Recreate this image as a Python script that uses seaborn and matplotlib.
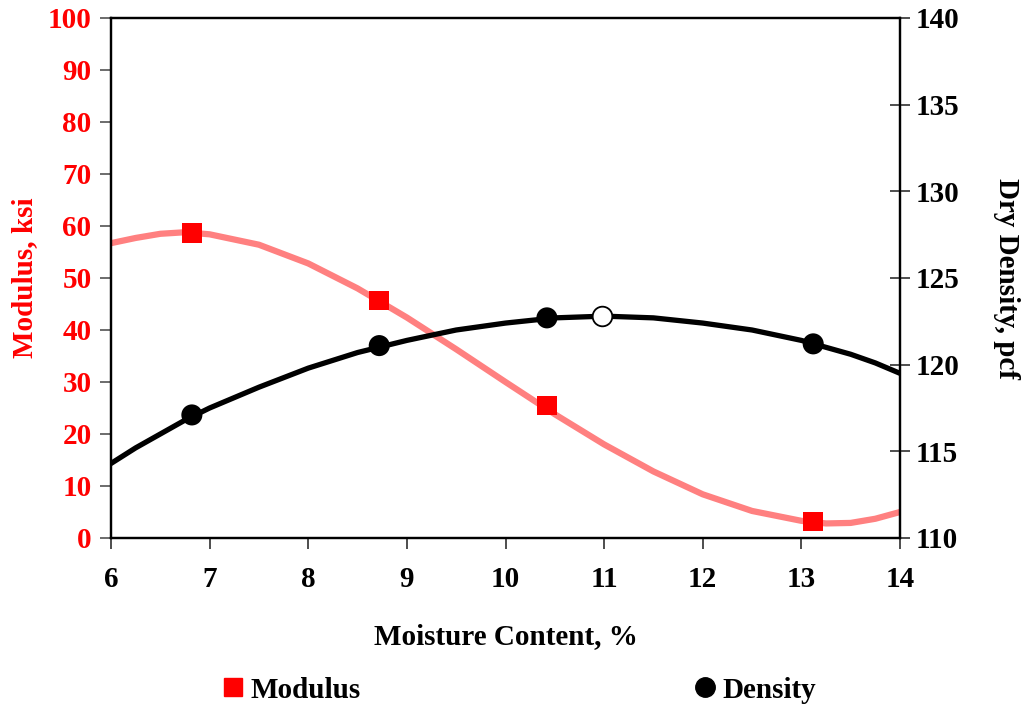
import matplotlib
matplotlib.use("Agg")
import matplotlib.pyplot as plt
import seaborn as sns
import pandas as pd
from matplotlib.lines import Line2D

# ---- data ----
curve_x = [6, 6.25, 6.5, 6.75, 7, 7.5, 8, 8.5, 9, 9.5, 10, 10.5, 11, 11.5, 12, 12.5,
           13, 13.25, 13.5, 13.75, 14]
modulus_curve = [56.7, 57.7, 58.5, 58.8, 58.4, 56.4, 52.8, 48.0, 42.4, 36.3, 30.0,
                 23.8, 18.0, 12.8, 8.4, 5.2, 3.3, 2.8, 2.9, 3.7, 5.0]
density_curve = [114.3, 115.2, 116.0, 116.8, 117.5, 118.7, 119.8, 120.7, 121.4,
                 122.0, 122.4, 122.7, 122.8, 122.7, 122.4, 122.0, 121.4, 121.0,
                 120.6, 120.1, 119.5]

moisture = [6.82, 8.72, 10.42, 13.12]
modulus = [58.7, 45.7, 25.5, 3.2]
density = [117.1, 121.1, 122.7, 121.2]

opt_moisture = [10.98]
opt_density = [122.8]

x_ticks = [6, 7, 8, 9, 10, 11, 12, 13, 14]
left_ticks = [0, 10, 20, 30, 40, 50, 60, 70, 80, 90, 100]
right_ticks = [110, 115, 120, 125, 130, 135, 140]

sns.set_style("white")
plt.rcParams["font.family"] = ["Liberation Serif", "DejaVu Serif"]
plt.rcParams["font.weight"] = "bold"
plt.rcParams["text.color"] = "black"
plt.rcParams["axes.labelcolor"] = "black"
plt.rcParams["xtick.color"] = "black"
plt.rcParams["ytick.color"] = "black"

FS = 21

fig = plt.figure(figsize=(10.24, 7.09), dpi=100)
ax = fig.add_axes([111 / 1024, (709 - 538) / 709, 789 / 1024, 520 / 709])
ax2 = ax.twinx()

curve_df = pd.DataFrame({"x": curve_x, "mod": modulus_curve, "den": density_curve})
pts_df = pd.DataFrame({"x": moisture, "mod": modulus, "den": density})

sns.lineplot(data=curve_df, x="x", y="mod", ax=ax, color="#FF8080", lw=4.5,
             sort=True, legend=False)
sns.scatterplot(data=pts_df, x="x", y="mod", ax=ax, marker="s", s=200,
                color="#FF0000", edgecolor="none", zorder=5, legend=False)

sns.lineplot(data=curve_df, x="x", y="den", ax=ax2, color="black", lw=3.8,
             sort=True, legend=False)
sns.scatterplot(data=pts_df, x="x", y="den", ax=ax2, marker="o", s=230,
                color="black", edgecolor="none", zorder=5, legend=False)
sns.scatterplot(x=opt_moisture, y=opt_density, ax=ax2, marker="o", s=200,
                facecolor="white", edgecolor="black", linewidth=1.3, zorder=6,
                legend=False)

ax.set_xlim(6, 14)
ax.set_ylim(0, 100)
ax2.set_ylim(110, 140)
ax.set_xticks(x_ticks)
ax.set_xticklabels([str(v) for v in x_ticks])
ax.set_yticks(left_ticks)
ax.set_yticklabels([str(v) for v in left_ticks])
ax2.set_yticks(right_ticks)
ax2.set_yticklabels([str(v) for v in right_ticks])

for a in (ax, ax2):
    for s in a.spines.values():
        s.set_visible(True)
        s.set_color("black")
        s.set_linewidth(1.6)

ax.tick_params(axis="x", direction="out", length=8, width=1.3, color="#404040",
               labelsize=FS, labelcolor="black", pad=12, bottom=True)
ax.tick_params(axis="y", direction="out", length=8, width=1.3, color="#606060",
               labelsize=FS, labelcolor="#FF0000", pad=6, left=True)
ax2.tick_params(axis="y", direction="inout", length=14, width=1.3, color="#404040",
                labelsize=FS, labelcolor="black", pad=4, right=True)
for lab in ax.get_xticklabels() + ax.get_yticklabels() + ax2.get_yticklabels():
    lab.set_fontweight("bold")

ax.set_xlabel("Moisture Content, %", fontsize=FS, fontweight="bold", color="black",
              labelpad=22)
ax.set_ylabel("Modulus, ksi", fontsize=FS, fontweight="bold", color="#FF0000",
              labelpad=7)
ax2.set_ylabel("Dry Density, pcf", fontsize=FS, fontweight="bold", color="black",
               rotation=-90, labelpad=44)
ax.grid(False)
ax2.grid(False)

h1 = [Line2D([], [], marker="s", color="#FF0000", ls="none", markersize=13)]
h2 = [Line2D([], [], marker="o", color="black", ls="none", markersize=14)]
leg_kw = dict(frameon=False, handletextpad=0.1, borderpad=0, borderaxespad=0,
              handlelength=1.0, prop={"weight": "bold", "size": FS})
l1 = fig.legend(h1, ["Modulus"], loc="center left",
                bbox_to_anchor=(218 / 1024, 1 - 690 / 709), **leg_kw)
l2 = fig.legend(h2, ["Density"], loc="center left",
                bbox_to_anchor=(690 / 1024, 1 - 690 / 709), **leg_kw)
for l in (l1, l2):
    for t in l.get_texts():
        t.set_color("black")

fig.savefig("out.png", dpi=100)
